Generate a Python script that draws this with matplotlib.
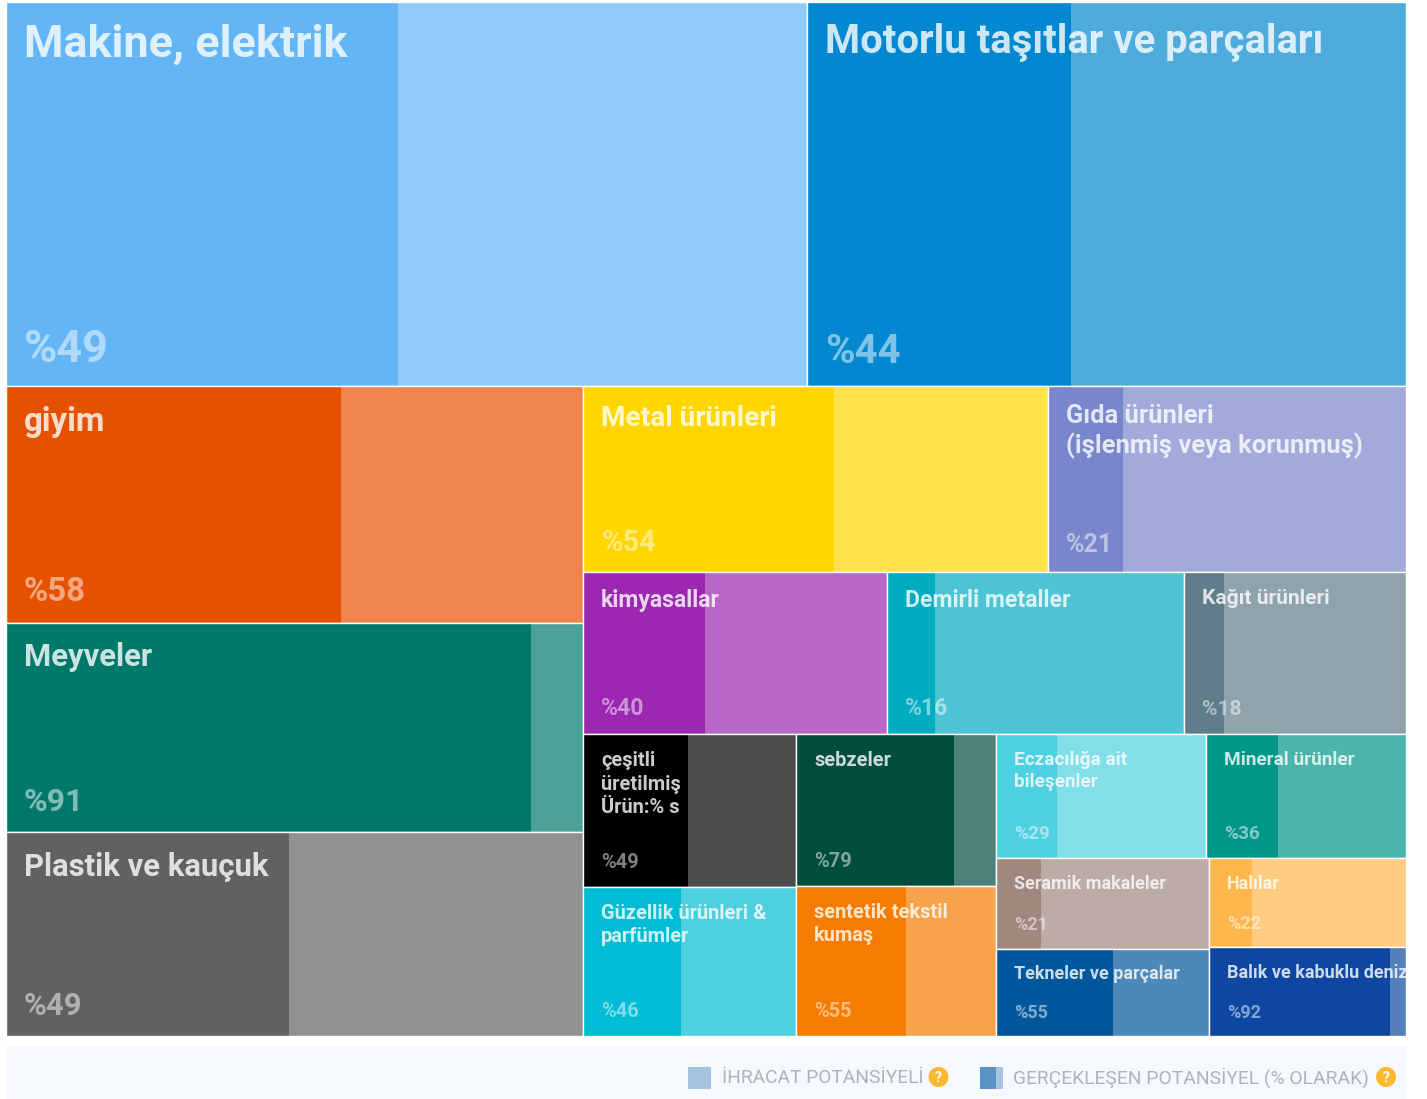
import matplotlib.pyplot as plt
import matplotlib as mpl
from matplotlib.patches import Rectangle, Circle

mpl.rcParams['font.family'] = ['Roboto', 'DejaVu Sans']

# values: export potential (tile area) and realised share
names = ['Makine, elektrik', 'Motorlu taşıtlar ve parçaları', 'giyim', 'Meyveler',
         'Plastik ve kauçuk', 'Metal ürünleri', 'Gıda ürünleri\n(işlenmiş veya korunmuş)',
         'kimyasallar', 'Demirli metaller', 'Kağıt ürünleri',
         'çeşitli\nüretilmiş\nÜrün:% s', 'Güzellik ürünleri &\nparfümler',
         'sebzeler', 'sentetik tekstil\nkumaş', 'Eczacılığa ait\nbileşenler', 'Mineral ürünler',
         'Seramik makaleler', 'Tekneler ve parçalar', 'Halılar', 'Balık ve kabuklu deniz']
potential = [305, 228, 135.3, 119.7, 116.3, 85.4, 65.7, 48.8, 47.7, 35.6,
             32.2, 31.4, 30, 29.7, 25.7, 24.5, 19.1, 18.4, 17.4, 17.3]
realised = [49, 44, 58, 91, 49, 54, 21, 40, 16, 18, 49, 46, 79, 55, 29, 36, 21, 55, 22, 92]
legend_labels = ['İHRACAT POTANSİYELİ', 'GERÇEKLEŞEN POTANSİYEL (% OLARAK)']

colors = ['#64B5F6', '#0288D1', '#E65100', '#00796B', '#616161', '#FFD600', '#7986CB',
          '#9C27B0', '#00ACC1', '#607D8B', '#000000', '#00BCD4', '#004D40', '#F57C00',
          '#4DD0E1', '#009688', '#A1887F', '#01579B', '#FFB74D', '#0D47A1']
title_px = [45, 40, 33, 31, 31, 28, 25.5, 23, 23, 21, 20, 20, 20, 20, 19, 19, 18, 18, 18, 18]
pct_px = [45, 40, 33, 32, 31, 29, 25, 23, 23, 21, 20, 20, 20, 20, 19, 19, 18, 18, 18, 18]

# h = tiles side by side, v = tiles stacked
tree = ('v', [('h', [0, 1]),
              ('h', [('v', [2, 3, 4]),
                     ('v', [('h', [5, 6]),
                            ('h', [7, 8, 9]),
                            ('h', [('v', [10, 11]),
                                   ('v', [12, 13]),
                                   ('v', [('h', [14, 15]),
                                          ('h', [('v', [16, 17]),
                                                 ('v', [18, 19])])])])])])])


def total(node):
    if isinstance(node, int):
        return potential[node]
    return sum(total(c) for c in node[1])


def layout(node, x, y, w, h, out):
    if isinstance(node, int):
        out[node] = (x, y, w, h)
        return
    tot = total(node)
    for c in node[1]:
        share = total(c) / tot
        if node[0] == 'h':
            layout(c, x, y, w * share, h, out)
            x += w * share
        else:
            layout(c, x, y, w, h * share, out)
            y += h * share


fig = plt.figure(figsize=(14.27, 10.99), dpi=100)
ax = fig.add_axes([0, 0, 1, 1])
ax.set_xlim(0, 1427)
ax.set_ylim(1099, 0)
ax.axis('off')

boxes = {}
layout(tree, 5.5, 1.5, 1400.5, 1034.5, boxes)

for i, name in enumerate(names):
    x, y, w, h = boxes[i]
    frame = Rectangle((x, y), w, h, facecolor='white', edgecolor='none')
    ax.add_patch(frame)
    ax.add_patch(Rectangle((x, y), w, h, facecolor=colors[i], edgecolor='none', alpha=0.7))
    ax.add_patch(Rectangle((x, y), w * realised[i] / 100, h, facecolor=colors[i], edgecolor='none'))
    ax.add_patch(Rectangle((x, y), w, h, facecolor='none', edgecolor='white', lw=1.0))
    top = 13 + title_px[i] * 0.2
    spacing = 1.3 if title_px[i] <= 20 else 1.22
    t = ax.text(x + 18, y + top, name, color='white', alpha=0.8, fontweight='bold',
                fontsize=title_px[i] * 0.72, va='top', ha='left', linespacing=spacing)
    t.set_clip_path(frame)
    ax.text(x + 18, y + h - 14.5 - pct_px[i] * 0.22, '%' + str(realised[i]), color='white', alpha=0.5,
            fontweight='bold', fontsize=pct_px[i] * 0.72, va='baseline', ha='left')

# legend strip
ax.add_patch(Rectangle((6, 1046), 1400, 53, facecolor='#F5F8FC', edgecolor='none'))
ax.add_patch(Rectangle((688, 1067), 23, 22, facecolor='#A6C4E0', edgecolor='none'))
ax.text(722, 1078, legend_labels[0], color='#A9B4C0', fontsize=13.8, va='center', ha='left')
ax.add_patch(Rectangle((980, 1067), 23, 22, facecolor='#A6C4E0', edgecolor='none'))
ax.add_patch(Rectangle((980, 1067), 16, 22, facecolor='#5A92C6', edgecolor='none'))
ax.text(1013, 1078, legend_labels[1], color='#A9B4C0', fontsize=13.85, va='center', ha='left')
for cx in [938.5, 1386]:
    ax.add_patch(Circle((cx, 1077), 10, facecolor='#FBB92F', edgecolor='none'))
    ax.text(cx, 1077.5, '?', color='white', fontsize=10, fontweight='bold', va='center', ha='center')

fig.savefig('out.png', dpi=100)
plt.close()
